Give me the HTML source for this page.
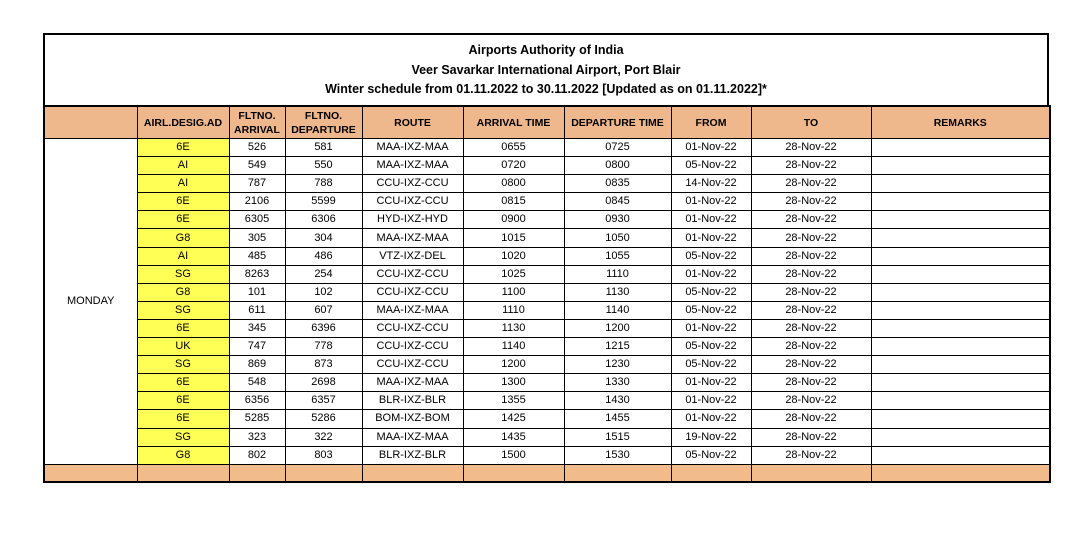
<!DOCTYPE html>
<html><head><meta charset="utf-8"><style>
body{margin:0;background:#fff;width:1080px;height:559px;position:relative;font-family:"Liberation Sans",sans-serif;}
.box{position:absolute;left:43px;top:33px;width:1006px;height:72px;border:2px solid #000;border-bottom:none;text-align:center;font-weight:bold;font-size:12.5px;line-height:19.5px;box-sizing:border-box;padding-top:6px;}
table{position:absolute;left:43px;top:105px;border-collapse:collapse;table-layout:fixed;width:1006px;font-size:11px;}
td{border:1.5px solid #000;text-align:center;padding:0;height:17.1px;line-height:17px;white-space:nowrap;overflow:hidden;}
tr.h td{background:#efb88c;font-weight:bold;height:31px;line-height:14px;font-size:10.5px;}
tr.f td{background:#f2bb8c;height:16px;}
td.y{background:#ffff55;}
td.m{border-top:1.5px solid #000;border-bottom:1.5px solid #000;}
table{border:2px solid #000;}
</style></head><body>
<div class="box">Airports Authority of India<br>Veer Savarkar International Airport, Port Blair<br>Winter schedule from 01.11.2022 to 30.11.2022 [Updated as on 01.11.2022]*</div>
<table>
<colgroup><col style="width:93px"><col style="width:92px"><col style="width:56px"><col style="width:77px"><col style="width:101px"><col style="width:101px"><col style="width:107px"><col style="width:80px"><col style="width:120px"><col style="width:179px"></colgroup>
<tr class="h"><td></td><td>AIRL.DESIG.AD</td><td>FLTNO.<br>ARRIVAL</td><td>FLTNO.<br>DEPARTURE</td><td>ROUTE</td><td>ARRIVAL TIME</td><td>DEPARTURE TIME</td><td>FROM</td><td>TO</td><td>REMARKS</td></tr>
<tr><td rowspan="18" class="m">MONDAY</td><td class="y">6E</td><td>526</td><td>581</td><td>MAA-IXZ-MAA</td><td>0655</td><td>0725</td><td>01-Nov-22</td><td>28-Nov-22</td><td></td></tr>
<tr><td class="y">AI</td><td>549</td><td>550</td><td>MAA-IXZ-MAA</td><td>0720</td><td>0800</td><td>05-Nov-22</td><td>28-Nov-22</td><td></td></tr>
<tr><td class="y">AI</td><td>787</td><td>788</td><td>CCU-IXZ-CCU</td><td>0800</td><td>0835</td><td>14-Nov-22</td><td>28-Nov-22</td><td></td></tr>
<tr><td class="y">6E</td><td>2106</td><td>5599</td><td>CCU-IXZ-CCU</td><td>0815</td><td>0845</td><td>01-Nov-22</td><td>28-Nov-22</td><td></td></tr>
<tr><td class="y">6E</td><td>6305</td><td>6306</td><td>HYD-IXZ-HYD</td><td>0900</td><td>0930</td><td>01-Nov-22</td><td>28-Nov-22</td><td></td></tr>
<tr><td class="y">G8</td><td>305</td><td>304</td><td>MAA-IXZ-MAA</td><td>1015</td><td>1050</td><td>01-Nov-22</td><td>28-Nov-22</td><td></td></tr>
<tr><td class="y">AI</td><td>485</td><td>486</td><td>VTZ-IXZ-DEL</td><td>1020</td><td>1055</td><td>05-Nov-22</td><td>28-Nov-22</td><td></td></tr>
<tr><td class="y">SG</td><td>8263</td><td>254</td><td>CCU-IXZ-CCU</td><td>1025</td><td>1110</td><td>01-Nov-22</td><td>28-Nov-22</td><td></td></tr>
<tr><td class="y">G8</td><td>101</td><td>102</td><td>CCU-IXZ-CCU</td><td>1100</td><td>1130</td><td>05-Nov-22</td><td>28-Nov-22</td><td></td></tr>
<tr><td class="y">SG</td><td>611</td><td>607</td><td>MAA-IXZ-MAA</td><td>1110</td><td>1140</td><td>05-Nov-22</td><td>28-Nov-22</td><td></td></tr>
<tr><td class="y">6E</td><td>345</td><td>6396</td><td>CCU-IXZ-CCU</td><td>1130</td><td>1200</td><td>01-Nov-22</td><td>28-Nov-22</td><td></td></tr>
<tr><td class="y">UK</td><td>747</td><td>778</td><td>CCU-IXZ-CCU</td><td>1140</td><td>1215</td><td>05-Nov-22</td><td>28-Nov-22</td><td></td></tr>
<tr><td class="y">SG</td><td>869</td><td>873</td><td>CCU-IXZ-CCU</td><td>1200</td><td>1230</td><td>05-Nov-22</td><td>28-Nov-22</td><td></td></tr>
<tr><td class="y">6E</td><td>548</td><td>2698</td><td>MAA-IXZ-MAA</td><td>1300</td><td>1330</td><td>01-Nov-22</td><td>28-Nov-22</td><td></td></tr>
<tr><td class="y">6E</td><td>6356</td><td>6357</td><td>BLR-IXZ-BLR</td><td>1355</td><td>1430</td><td>01-Nov-22</td><td>28-Nov-22</td><td></td></tr>
<tr><td class="y">6E</td><td>5285</td><td>5286</td><td>BOM-IXZ-BOM</td><td>1425</td><td>1455</td><td>01-Nov-22</td><td>28-Nov-22</td><td></td></tr>
<tr><td class="y">SG</td><td>323</td><td>322</td><td>MAA-IXZ-MAA</td><td>1435</td><td>1515</td><td>19-Nov-22</td><td>28-Nov-22</td><td></td></tr>
<tr><td class="y">G8</td><td>802</td><td>803</td><td>BLR-IXZ-BLR</td><td>1500</td><td>1530</td><td>05-Nov-22</td><td>28-Nov-22</td><td></td></tr>
<tr class="f"><td></td><td></td><td></td><td></td><td></td><td></td><td></td><td></td><td></td><td></td></tr>
</table>
</body></html>
